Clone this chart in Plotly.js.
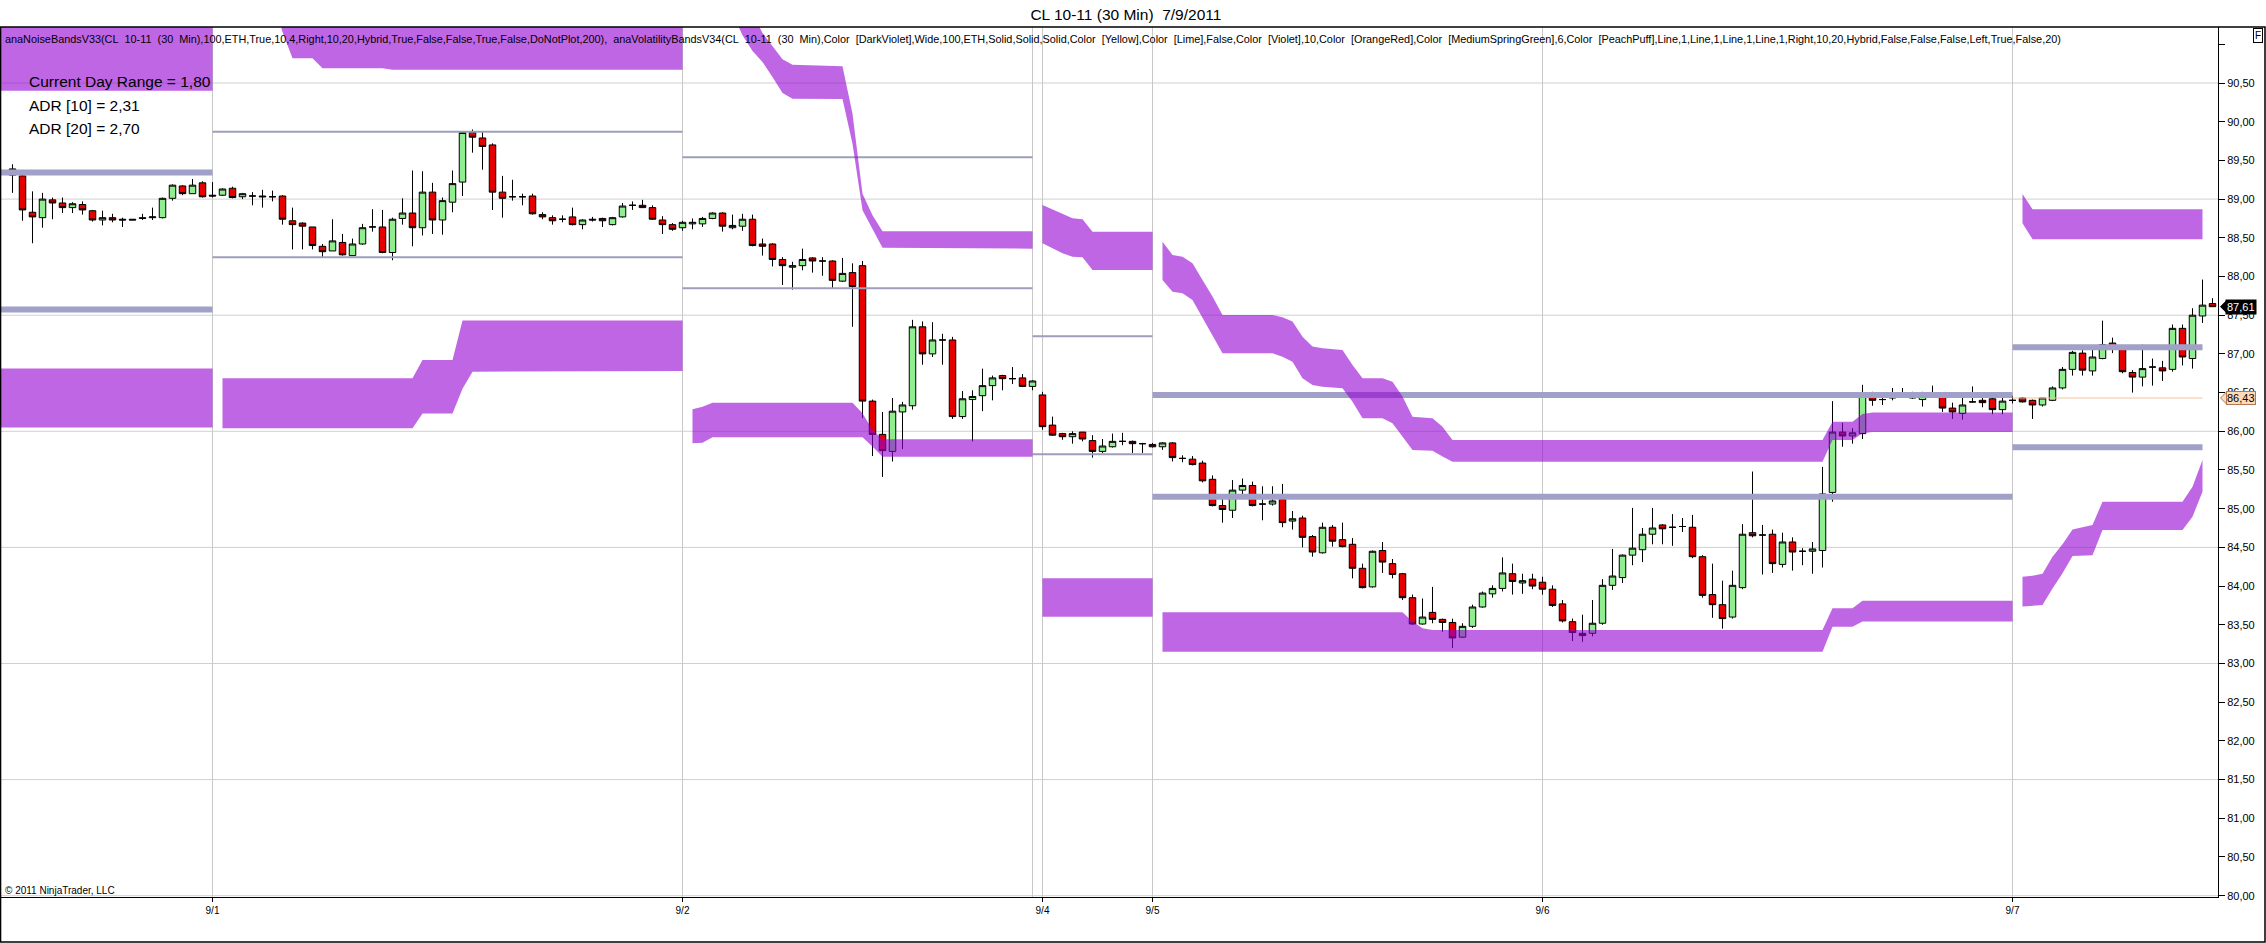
<!DOCTYPE html>
<html><head><meta charset="utf-8">
<script src="https://cdn.plot.ly/plotly-3.0.1.min.js"></script>
<style>html,body{margin:0;padding:0;background:#fff;}#chart{width:2266px;height:943px;}</style>
</head><body><div id="chart"></div>
<script>
const FONT = 'Liberation Sans, Arial, sans-serif';

// ---- 30-min bars (bar index 0..220) ----
const openP = [89.39,89.30,88.83,88.76,88.99,88.95,88.89,88.93,88.85,88.73,
88.76,88.74,88.74,88.76,88.76,88.76,89.01,89.17,89.07,89.21,
89.05,89.05,89.14,89.03,89.04,89.04,89.03,89.04,88.72,88.69,
88.64,88.39,88.33,88.44,88.27,88.42,88.64,88.64,88.31,88.75,
88.82,88.63,89.09,88.73,88.96,89.22,89.86,89.79,89.70,89.09,
89.03,89.03,89.04,88.80,88.76,88.74,88.77,88.67,88.74,88.75,
88.67,88.77,88.92,88.92,88.89,88.73,88.67,88.63,88.68,88.68,
88.75,88.82,88.63,88.65,88.74,88.42,88.42,88.22,88.12,88.14,
88.24,88.20,88.20,87.94,88.05,88.14,86.39,85.96,85.74,86.25,
86.33,87.35,87.00,87.18,87.18,86.19,86.41,86.46,86.59,86.72,
86.68,86.69,86.58,86.47,86.08,85.97,85.93,85.99,85.88,85.74,
85.80,85.87,85.87,85.84,85.83,85.80,85.85,85.65,85.64,85.59,
85.38,85.04,84.98,85.24,85.30,85.06,85.06,85.12,84.84,84.88,
84.64,84.43,84.76,84.60,84.54,84.23,83.99,84.46,84.29,84.16,
83.85,83.51,83.66,83.57,83.53,83.34,83.48,83.73,83.90,83.97,
84.16,84.04,84.09,84.05,83.96,83.77,83.54,83.39,83.39,83.52,
84.01,84.11,84.40,84.47,84.67,84.79,84.76,84.77,84.76,84.38,
83.89,83.76,83.60,83.98,84.69,84.66,84.67,84.28,84.57,84.45,
84.45,84.46,85.21,85.99,85.94,85.97,86.48,86.41,86.43,86.50,
86.47,86.41,86.50,86.49,86.30,86.23,86.38,86.40,86.42,86.28,
86.40,86.43,86.40,86.34,86.40,86.56,86.80,87.01,86.78,86.94,
87.14,87.07,86.76,86.70,86.83,86.82,86.80,87.33,86.94,87.49,
87.65];
const highP = [89.45,89.32,89.10,89.08,89.02,89.02,88.96,88.97,88.86,88.85,
88.81,88.76,88.74,88.81,88.89,89.02,89.19,89.18,89.26,89.23,
89.22,89.14,89.16,89.08,89.09,89.12,89.11,89.05,88.89,88.70,
88.64,88.42,88.74,88.55,88.49,88.68,88.87,88.86,88.76,89.01,
89.37,89.36,89.21,89.02,89.37,89.87,89.90,89.87,89.72,89.30,
89.25,89.07,89.07,88.83,88.79,88.79,88.89,88.74,88.77,88.76,
88.77,88.95,88.97,88.99,88.92,88.78,88.69,88.72,88.75,88.77,
88.83,88.83,88.80,88.81,88.80,88.49,88.43,88.25,88.19,88.36,
88.25,88.25,88.21,88.24,88.17,88.20,86.41,86.25,86.43,86.38,
87.44,87.42,87.41,87.26,87.22,86.52,86.53,86.81,86.72,86.73,
86.83,86.74,86.66,86.51,86.19,85.98,86.00,85.99,85.95,85.90,
85.97,85.98,85.88,85.85,85.85,85.86,85.86,85.69,85.68,85.62,
85.43,85.16,85.37,85.39,85.35,85.29,85.29,85.32,84.97,84.91,
84.66,84.82,84.79,84.82,84.62,84.29,84.46,84.57,84.35,84.17,
83.89,83.84,83.99,83.58,83.58,83.52,83.76,83.93,84.01,84.37,
84.29,84.16,84.16,84.12,84.01,83.82,83.58,83.63,83.82,84.09,
84.48,84.41,85.01,84.75,85.01,84.80,84.93,84.88,84.92,84.40,
84.29,84.07,84.20,84.80,85.48,84.79,84.73,84.69,84.63,84.49,
84.57,85.54,86.39,86.11,86.04,86.60,86.51,86.47,86.56,86.56,
86.51,86.51,86.59,86.50,86.37,86.44,86.58,86.46,86.44,86.47,
86.46,86.44,86.41,86.43,86.58,86.83,87.04,87.09,87.06,87.43,
87.21,87.09,86.79,87.12,86.94,86.91,87.38,87.38,87.59,87.96,
87.72];
const lowP = [89.08,88.72,88.43,88.63,88.74,88.82,88.82,88.80,88.71,88.66,
88.70,88.64,88.73,88.73,88.73,88.75,88.98,89.05,89.07,89.02,
89.02,89.04,89.01,89.00,88.92,88.89,88.97,88.67,88.35,88.35,
88.35,88.24,88.33,88.27,88.27,88.41,88.58,88.30,88.21,88.67,
88.39,88.53,88.55,88.54,88.83,89.04,89.60,89.38,88.86,88.76,
88.98,88.92,88.80,88.74,88.67,88.70,88.66,88.61,88.71,88.64,
88.66,88.76,88.86,88.89,88.73,88.55,88.59,88.59,88.61,88.64,
88.74,88.58,88.61,88.59,88.39,88.27,88.13,87.89,87.83,88.08,
88.05,88.01,87.84,87.93,87.35,86.17,85.68,85.41,85.61,85.77,
86.28,86.86,86.96,86.86,86.16,86.16,85.87,86.26,86.40,86.53,
86.61,86.57,86.53,86.02,85.94,85.89,85.84,85.87,85.66,85.72,
85.79,85.82,85.72,85.72,85.79,85.76,85.61,85.60,85.56,85.34,
85.03,84.82,84.88,85.17,85.03,84.85,85.04,84.76,84.73,84.50,
84.38,84.42,84.51,84.50,84.10,83.97,83.98,84.17,84.10,83.82,
83.50,83.50,83.52,83.41,83.20,83.33,83.46,83.72,83.85,83.93,
83.89,83.90,83.96,83.89,83.73,83.53,83.29,83.28,83.35,83.50,
83.95,84.04,84.27,84.31,84.54,84.54,84.52,84.70,84.36,83.85,
83.59,83.45,83.58,83.96,84.63,84.15,84.17,84.24,84.20,84.27,
84.16,84.24,85.09,85.80,85.84,85.90,86.33,86.34,86.40,86.44,
86.42,86.32,86.46,86.25,86.16,86.15,86.37,86.31,86.22,86.22,
86.36,86.37,86.16,86.32,86.39,86.54,86.72,86.72,86.72,86.93,
87.01,86.75,86.50,86.58,86.59,86.65,86.77,86.85,86.81,87.40,
87.61];
const closeP = [89.31,88.86,88.77,89.00,88.95,88.89,88.94,88.86,88.73,88.76,
88.73,88.73,88.73,88.75,88.77,89.01,89.18,89.07,89.18,89.03,
89.04,89.13,89.02,89.07,89.04,89.03,89.03,88.74,88.67,88.65,
88.40,88.32,88.46,88.28,88.42,88.63,88.64,88.31,88.74,88.82,
88.63,89.09,88.73,88.98,89.20,89.86,89.80,89.68,89.09,89.01,
89.03,89.03,88.81,88.77,88.72,88.74,88.67,88.73,88.73,88.72,
88.76,88.91,88.92,88.89,88.74,88.67,88.61,88.70,88.70,88.75,
88.82,88.65,88.66,88.74,88.40,88.39,88.22,88.14,88.14,88.22,
88.20,88.20,87.95,88.04,87.87,86.39,85.96,85.75,86.26,86.34,
87.35,87.00,87.18,87.18,86.19,86.42,86.45,86.59,86.69,86.68,
86.68,86.58,86.65,86.06,85.95,85.93,85.97,85.90,85.74,85.81,
85.87,85.87,85.84,85.84,85.80,85.85,85.66,85.65,85.57,85.36,
85.04,84.99,85.24,85.30,85.04,85.06,85.10,84.82,84.87,84.63,
84.44,84.76,84.58,84.51,84.23,83.98,84.45,84.31,84.15,83.85,
83.51,83.60,83.57,83.53,83.33,83.48,83.73,83.91,83.97,84.17,
84.06,84.07,84.00,83.96,83.75,83.55,83.40,83.36,83.52,84.01,
84.13,84.40,84.49,84.67,84.75,84.74,84.76,84.77,84.38,83.88,
83.76,83.58,84.01,84.67,84.65,84.66,84.29,84.57,84.44,84.45,
84.48,85.19,85.99,85.94,85.98,86.49,86.40,86.41,86.50,86.46,
86.43,86.50,86.50,86.30,86.25,86.34,86.38,86.37,86.28,86.39,
86.40,86.38,86.34,86.43,86.56,86.80,87.02,86.79,86.96,87.12,
87.06,86.77,86.70,86.81,86.83,86.78,87.33,86.96,87.50,87.63,
87.61];

// ---- x axis date labels (bar index of date line) ----
const dateTickBars = [20, 67, 103, 114, 153, 200];
const dateTickLabels = ['9/1', '9/2', '9/4', '9/5', '9/6', '9/7'];
const sessionBreakBars = [102];

// ---- ADR reference lines (thick lavender) ----
const adrFrom  = [-2, -2, 114, 114, 200, 200];
const adrTo    = [20, 20, 200, 200, 219, 219];
const adrLevel = [89.344, 87.574, 86.47, 85.155, 87.085, 85.795];
// ---- day high / low lines (thin) ----
const dayFrom  = [20, 20, 67, 67, 102, 102];
const dayTo    = [67, 67, 102, 102, 114, 114];
const dayLevel = [89.87, 88.25, 89.54, 87.847, 87.229, 85.703];
// ---- PeachPuff level ----
const peachLevel = 86.43, peachFrom = 200, peachTo = 219;

// ---- noise bands (vertices: bar index, top, bottom) ----
const bandAupX = [-2, 20], bandAupTop = [92.5, 92.5], bandAupBot = [90.40, 90.40];
const bandAloX = [-2, 20], bandAloTop = [86.81, 86.81], bandAloBot = [86.05, 86.05];
const bandBupX = [21, 26, 27, 28, 30, 31, 37, 38, 67];
const bandBupTop = [92.5, 92.5, 92.5, 92.5, 92.5, 92.5, 92.5, 92.5, 92.5];
const bandBupBot = [91.6, 91.6, 91.16, 90.82, 90.82, 90.69, 90.69, 90.67, 90.67];
const bandBloX = [21, 40, 41, 44, 45, 46, 67];
const bandBloTop = [86.685, 86.685, 86.92, 86.92, 87.43, 87.43, 87.43];
const bandBloBot = [86.04, 86.04, 86.23, 86.23, 86.55, 86.77, 86.78];
const bandCupX = [68, 72, 73, 74, 75, 76, 77, 78, 83, 84, 85, 86, 87, 102];
const bandCupTop = [92.3, 91.8, 91.6, 91.4, 91.146, 90.978, 90.806, 90.737, 90.715, 90.104, 89.07, 88.79, 88.583, 88.583];
const bandCupBot = [91.9, 91.4, 91.116, 90.913, 90.771, 90.577, 90.371, 90.298, 90.293, 89.716, 88.855, 88.618, 88.37, 88.36];
const bandCloX = [68, 69, 70, 84, 85, 86, 87, 102];
const bandCloTop = [86.284, 86.318, 86.37, 86.37, 86.232, 86.017, 85.896, 85.896];
const bandCloBot = [85.845, 85.853, 85.922, 85.922, 85.922, 85.802, 85.672, 85.672];
const bandDupX = [103, 104, 105, 106, 107, 108, 114];
const bandDupTop = [88.924, 88.868, 88.816, 88.752, 88.739, 88.579, 88.579];
const bandDupBot = [88.429, 88.364, 88.300, 88.256, 88.248, 88.084, 88.084];
const bandDloX = [103, 114], bandDloTop = [84.10, 84.10], bandDloBot = [83.605, 83.605];
const bandEupX = [115,116,117,118,119,120,121,126,127,128,129,130,131,133,134,135,137,138,139,140,142,143,144,181,182,184,185,186,200];
const bandEupTop = [88.45,88.278,88.256,88.17,87.955,87.74,87.503,87.503,87.473,87.417,87.223,87.094,87.072,87.051,86.857,86.684,86.684,86.641,86.448,86.189,86.168,86.06,85.888,85.888,86.124,86.124,86.224,86.243,86.243];
const bandEupBot = [87.955,87.804,87.783,87.697,87.481,87.244,87.008,87.008,86.964,86.90,86.684,86.598,86.577,86.555,86.383,86.168,86.168,86.103,85.931,85.759,85.75,85.673,85.608,85.608,85.888,85.888,85.974,85.99,85.99];
const bandEloX = [115, 139, 140, 141, 142, 181, 182, 184, 185, 200];
const bandEloTop = [83.661, 83.661, 83.541, 83.455, 83.433, 83.433, 83.713, 83.713, 83.812, 83.812];
const bandEloBot = [83.153, 83.153, 83.153, 83.153, 83.153, 83.153, 83.476, 83.476, 83.541, 83.541];
const bandGupX = [201, 202, 219], bandGupTop = [89.066, 88.868, 88.868], bandGupBot = [88.687, 88.48, 88.48];
const bandGloX = [201, 202, 203, 204, 205, 206, 207, 208, 209, 217, 218, 219];
const bandGloTop = [84.122, 84.135, 84.16, 84.38, 84.54, 84.73, 84.76, 84.79, 85.09, 85.09, 85.285, 85.629];
const bandGloBot = [83.735, 83.743, 83.756, 83.97, 84.165, 84.39, 84.393, 84.40, 84.725, 84.725, 84.897, 85.22];

// ---- texts ----
const chartTitle = 'CL 10-11 (30 Min)\u00a0 7/9/2011';
const indicatorText = 'anaNoiseBandsV33(CL\u00a0 10-11\u00a0 (30\u00a0 Min),100,ETH,True,10,4,Right,10,20,Hybrid,True,False,False,True,False,DoNotPlot,200),\u00a0 anaVolatilityBandsV34(CL\u00a0 10-11\u00a0 (30\u00a0 Min),Color\u00a0 [DarkViolet],Wide,100,ETH,Solid,Solid,Solid,Color\u00a0 [Yellow],Color\u00a0 [Lime],False,Color\u00a0 [Violet],10,Color\u00a0 [OrangeRed],Color\u00a0 [MediumSpringGreen],6,Color\u00a0 [PeachPuff],Line,1,Line,1,Line,1,Line,1,Right,10,20,Hybrid,False,False,False,Left,True,False,20)';
const statsLabels = ['Current Day Range = 1,80', 'ADR [10] = 2,31', 'ADR [20] = 2,70'];

// ---- build ----
const barIdx = openP.map((_, i) => i);
const fmt = v => v.toFixed(2).replace('.', ',');
const yTickVals = [], yTickText = [];
for (let v = 80; v <= 91.001; v += 0.5) { yTickVals.push(+v.toFixed(2)); yTickText.push(v > 90.9 ? '' : fmt(v)); }
const gridLevels = [];
for (let v = 80; v <= 90.51; v += 1.5) gridLevels.push(+v.toFixed(2));

const traces = [];
function hline(x0, x1, y, color, width) {
  traces.push({type:'scatter', mode:'lines', x:[x0, x1], y:[y, y], line:{color:color, width:width}, hoverinfo:'skip', showlegend:false});
}
dayLevel.forEach((v, i) => hline(dayFrom[i], dayTo[i], v, 'rgb(158,158,186)', 2));
adrLevel.forEach((v, i) => hline(adrFrom[i], adrTo[i], v, 'rgb(160,160,200)', 6));
hline(peachFrom, peachTo, peachLevel, '#F3C49E', 1);

function band(xs, top, bot) {
  traces.push({type:'scatter', mode:'lines', x: xs.concat(xs.slice().reverse()), y: top.concat(bot.slice().reverse()),
    fill:'toself', fillcolor:'rgba(148,0,211,0.6)', line:{width:0, color:'rgba(0,0,0,0)'}, hoverinfo:'skip', showlegend:false});
}
band(bandAupX, bandAupTop, bandAupBot); band(bandAloX, bandAloTop, bandAloBot);
band(bandBupX, bandBupTop, bandBupBot); band(bandBloX, bandBloTop, bandBloBot);
band(bandCupX, bandCupTop, bandCupBot); band(bandCloX, bandCloTop, bandCloBot);
band(bandDupX, bandDupTop, bandDupBot); band(bandDloX, bandDloTop, bandDloBot);
band(bandEupX, bandEupTop, bandEupBot); band(bandEloX, bandEloTop, bandEloBot);
band(bandGupX, bandGupTop, bandGupBot); band(bandGloX, bandGloTop, bandGloBot);

traces.push({type:'candlestick', x:barIdx, open:openP, high:highP, low:lowP, close:closeP,
  increasing:{line:{color:'#000', width:1}, fillcolor:'#90EE90'},
  decreasing:{line:{color:'#000', width:1}, fillcolor:'#E60000'},
  whiskerwidth:0, hoverinfo:'skip', showlegend:false});

const lastPrice = closeP[closeP.length - 1];
const PW = 2217, PH = 870;           // plot area size in px
const px2paperX = px => (px - 1) / PW;
const priceTri = (y, fill, line) => {
  const h = 6.5 / 77.4;
  const xt = px2paperX(2220.5), xb = px2paperX(2227);
  return {type:'path', xref:'paper', yref:'y', layer:'above',
    path:'M ' + xt + ' ' + y + ' L ' + xb + ' ' + (y + h) + ' L ' + xb + ' ' + (y - h) + ' Z',
    fillcolor:fill, line:{color:line, width:1}};
};

const shapes = [];
gridLevels.forEach(v => shapes.push({type:'line', xref:'paper', yref:'y', x0:0, x1:1, y0:v, y1:v, layer:'below', line:{color:'#D0D0D0', width:1}}));
sessionBreakBars.forEach(b => shapes.push({type:'line', xref:'x', yref:'paper', x0:b, x1:b, y0:0, y1:1, layer:'below', line:{color:'#C8C8C8', width:1}}));
shapes.push({type:'rect', xref:'paper', yref:'paper', x0:-0.0002, x1:px2paperX(2265), y0:(897-942)/PH, y1:1, line:{color:'#000', width:1.5}, fillcolor:'rgba(0,0,0,0)', layer:'above'});
shapes.push(priceTri(lastPrice, '#000', '#000'));
shapes.push(priceTri(peachLevel, '#FFDAB9', '#B07850'));

const annotations = [
  {xref:'paper', yref:'paper', x:0.0009, y:(897-39)/PH, xanchor:'left', yanchor:'middle', text:indicatorText, showarrow:false, font:{size:10.87, color:'#000'}},
  {xref:'paper', yref:'paper', x:0.001, y:(897-890)/PH, xanchor:'left', yanchor:'middle', text:'\u00a9 2011 NinjaTrader, LLC', showarrow:false, font:{size:10, color:'#000'}},
  {xref:'paper', yref:'paper', x:px2paperX(2258.5), y:(897-35.5)/PH, xanchor:'center', yanchor:'middle', text:'F', showarrow:false, font:{size:10, color:'#000'}, bordercolor:'#000', borderwidth:1, borderpad:1, bgcolor:'#fff'},
  {xref:'paper', yref:'y', x:px2paperX(2241), y:lastPrice, xanchor:'center', yanchor:'middle', text:fmt(lastPrice), showarrow:false, font:{size:11, color:'#fff'}, bgcolor:'#000', borderpad:1},
  {xref:'paper', yref:'y', x:px2paperX(2241), y:peachLevel, xanchor:'center', yanchor:'middle', text:fmt(peachLevel), showarrow:false, font:{size:11, color:'#000'}, bgcolor:'#FFDAB9', bordercolor:'#B07850', borderwidth:1, borderpad:0}
];
const statsY = [81, 105.5, 128.5];
statsLabels.forEach((t, i) => annotations.push({xref:'paper', yref:'paper', x:px2paperX(26.5), y:(897-statsY[i])/PH, xanchor:'left', yanchor:'middle', text:t, showarrow:false, font:{size:15.5, color:'#000'}}));

const layout = {
  width:2266, height:943,
  margin:{l:1, r:48, t:27, b:46, pad:0},
  paper_bgcolor:'#fff', plot_bgcolor:'#fff',
  font:{family:FONT, size:11, color:'#000'},
  showlegend:false, separators:',.',
  boxgap:0.35, boxgroupgap:0,
  title:{text:chartTitle, x:0.5074, xref:'paper', xanchor:'center', y:1-15/943, yref:'container', yanchor:'middle', font:{size:15.5, color:'#000'}},
  xaxis:{range:[-1.15, 220.55], tickmode:'array', tickvals:dateTickBars, ticktext:dateTickLabels, showgrid:true, gridcolor:'#C8C8C8', gridwidth:1,
    zeroline:false, showline:true, linecolor:'#000', linewidth:1, ticks:'outside', ticklen:4, tickcolor:'#000', tickfont:{size:10},
    rangeslider:{visible:false}, fixedrange:true},
  yaxis:{range:[79.983, 91.2235], side:'right', tickmode:'array', tickvals:yTickVals, ticktext:yTickText, showgrid:false, zeroline:false,
    showline:true, linecolor:'#000', linewidth:1, ticks:'outside', ticklen:6, tickcolor:'#000', tickfont:{size:11}, fixedrange:true},
  shapes:shapes, annotations:annotations
};
Plotly.newPlot('chart', traces, layout, {staticPlot:true, displayModeBar:false});
</script></body></html>
